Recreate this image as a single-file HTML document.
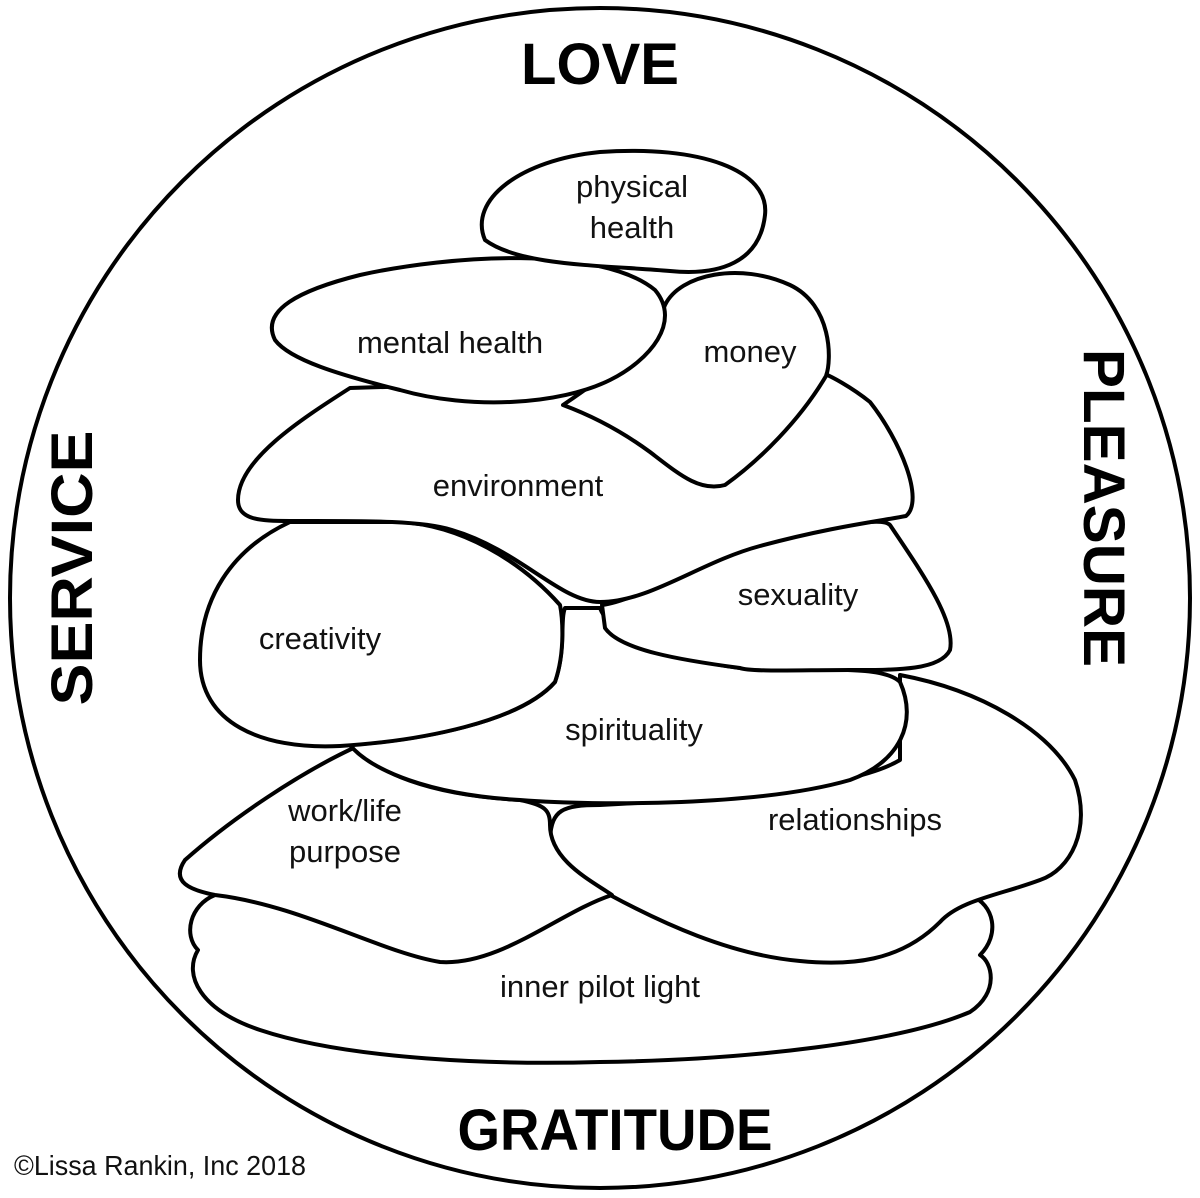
<!DOCTYPE html>
<html><head><meta charset="utf-8"><style>
html,body{margin:0;padding:0;background:#fff;}
svg{display:block;}
.l{font-family:"Liberation Sans",sans-serif;font-size:31px;fill:#111;text-anchor:middle;}
.h{font-family:"Liberation Sans",sans-serif;font-weight:bold;font-size:58px;fill:#000;text-anchor:middle;}
path{fill:#fff;stroke:#000;stroke-width:4;stroke-linejoin:round;}
</style></head><body>
<svg width="1200" height="1198" viewBox="0 0 1200 1198" xmlns="http://www.w3.org/2000/svg">
<circle cx="600" cy="598" r="590" fill="#fff" stroke="#000" stroke-width="4"/>
<path d="M215 895 C190 905 183 935 198 950 C183 975 200 1010 260 1030 C350 1060 500 1065 600 1062 C750 1060 900 1042 970 1012 C1000 992 992 962 980 955 C1000 935 995 905 970 895 C900 880 400 880 215 895 Z"/>
<path d="M900 675 C980 690 1050 730 1075 780 C1092 830 1070 870 1040 880 C1000 895 960 900 940 922 C900 962 850 966 800 961 C730 955 660 922 610 895 C580 880 548 860 550 838 C552 810 562 805 600 805 C700 800 850 790 900 760 Z"/>
<path d="M360 745 C300 772 230 820 185 860 C170 882 190 890 215 895 C300 905 380 952 440 962 C500 966 560 912 612 895 C590 880 550 860 550 825 C550 810 545 805 520 800 C430 795 370 772 360 745 Z"/>
<path d="M350 745 C420 740 520 722 555 682 C566 650 560 620 565 608 L600 608 C612 640 680 660 740 668 C800 674 880 662 900 682 C918 722 900 762 850 780 C760 806 600 806 520 800 C430 795 370 770 350 745 Z"/>
<path d="M602 605 C640 600 700 560 760 545 C820 530 880 515 890 525 C920 570 956 620 950 650 C940 670 900 670 850 670 C800 670 750 672 740 668 C680 660 620 650 605 628 Z"/>
<path d="M290 522 C230 550 200 600 200 660 C200 722 260 750 340 746 C420 741 520 722 555 682 C566 650 562 615 560 605 C520 560 460 525 400 522 Z"/>
<path d="M350 388 C300 420 238 460 238 500 C238 520 260 521 290 521 C360 521 420 520 452 530 C520 550 560 602 600 602 C650 602 700 562 760 546 C830 527 880 521 906 516 C925 500 900 440 870 402 C850 386 830 376 825 374 Z"/>
<path d="M563 405 C600 380 650 345 665 305 C680 274 740 262 790 285 C832 305 832 360 826 376 C800 420 760 460 725 485 C700 492 680 475 650 452 C620 430 590 415 563 405 Z"/>
<path d="M275 340 C260 310 300 290 360 275 C450 255 600 245 655 290 C682 322 650 360 610 380 C560 405 470 410 400 390 C340 375 290 360 275 340 Z"/>
<path d="M485 240 C468 200 520 160 600 152 C700 145 770 170 765 215 C760 262 720 276 670 271 C600 265 520 266 485 240 Z"/>

<text class="l" x="632" y="197">physical</text>
<text class="l" x="632" y="238">health</text>
<text class="l" x="450" y="353">mental health</text>
<text class="l" x="750" y="362">money</text>
<text class="l" x="518" y="496">environment</text>
<text class="l" x="798" y="605">sexuality</text>
<text class="l" x="320" y="649">creativity</text>
<text class="l" x="634" y="740">spirituality</text>
<text class="l" x="345" y="821">work/life</text>
<text class="l" x="345" y="862">purpose</text>
<text class="l" x="855" y="830">relationships</text>
<text class="l" x="600" y="997">inner pilot light</text>

<text class="h" x="600" y="84">LOVE</text>
<text class="h" x="615" y="1150" textLength="315" lengthAdjust="spacingAndGlyphs">GRATITUDE</text>
<text class="h" transform="translate(1084 508) rotate(90)" x="0" y="0" textLength="318" lengthAdjust="spacingAndGlyphs">PLEASURE</text>
<text class="h" transform="translate(92 568) rotate(-90)" x="0" y="0" textLength="275" lengthAdjust="spacingAndGlyphs">SERVICE</text>
<text x="14" y="1175" font-family="Liberation Sans Narrow, Liberation Sans, sans-serif" font-size="28" fill="#111" textLength="292" lengthAdjust="spacingAndGlyphs">©Lissa Rankin, Inc 2018</text>
</svg>
</body></html>
